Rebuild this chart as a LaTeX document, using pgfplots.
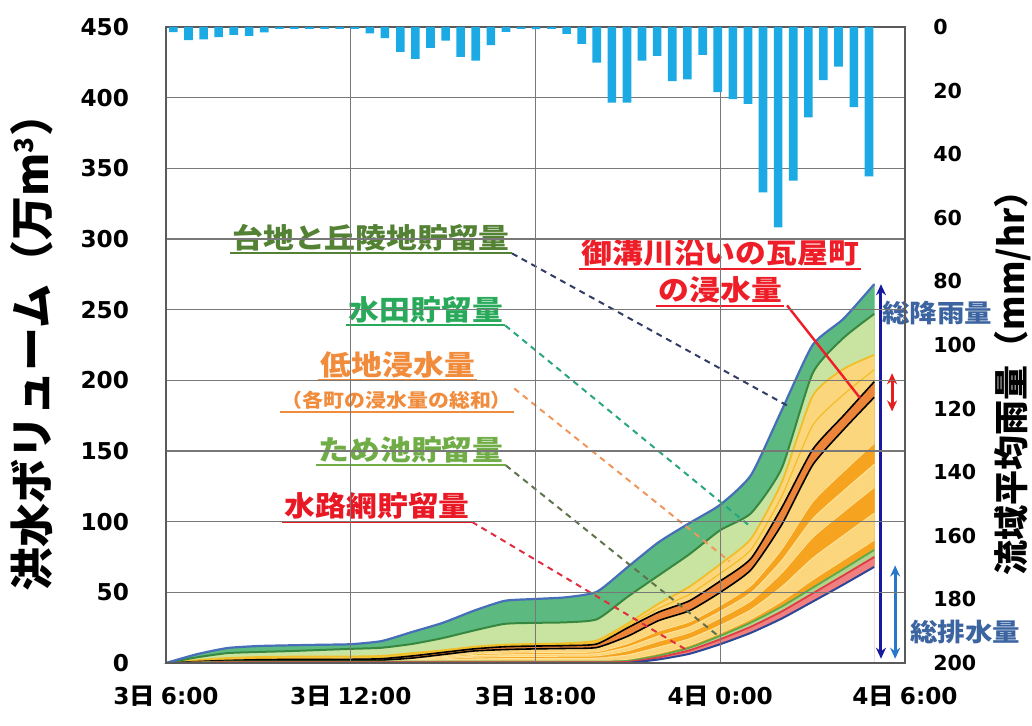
\documentclass[border=0pt]{standalone}
\usepackage{fontspec}
\setmainfont{Noto Sans CJK JP}[FakeStretch=1.1]
\newfontfamily\upfont{Noto Sans CJK JP}
\newfontfamily\numfont{DejaVu Sans}
\usepackage{pgfplots}
\usepackage{pgfplotstable}
\pgfplotsset{compat=1.18}
\usetikzlibrary{arrows.meta}

% area colours
\definecolor{hillgreen}{RGB}{92,186,128}
\definecolor{topblue}{RGB}{70,110,185}
\definecolor{paddygreen}{RGB}{200,228,160}
\definecolor{paddyline}{RGB}{55,135,65}
\definecolor{lowyellow}{RGB}{252,214,125}
\definecolor{loworange}{RGB}{246,164,32}
\definecolor{kawara}{RGB}{236,132,58}
\definecolor{goldline}{RGB}{242,190,40}
\definecolor{paleline}{RGB}{255,226,150}
\definecolor{pondfill}{RGB}{176,212,140}
\definecolor{pondline}{RGB}{96,168,72}
\definecolor{chanfill}{RGB}{240,128,128}
\definecolor{chanline}{RGB}{225,60,70}
\definecolor{drainline}{RGB}{45,70,150}
\definecolor{rainblue}{RGB}{28,170,228}
\definecolor{gridgray}{RGB}{120,120,120}
\definecolor{framegray}{RGB}{90,90,90}
% label colours
\definecolor{tTai}{RGB}{84,130,53}
\definecolor{tPaddy}{RGB}{40,170,90}
\definecolor{tLow}{RGB}{240,140,60}
\definecolor{tPond}{RGB}{112,173,71}
\definecolor{tChan}{RGB}{232,24,36}
\definecolor{tKawara}{RGB}{238,30,40}
\definecolor{tTotal}{RGB}{60,100,160}
\definecolor{lTai}{RGB}{50,60,100}
\definecolor{lPaddy}{RGB}{40,165,130}
\definecolor{lLow}{RGB}{240,150,90}
\definecolor{lPond}{RGB}{95,115,75}
\definecolor{lChan}{RGB}{225,45,65}
\definecolor{aNavy}{RGB}{25,25,160}
\definecolor{aRed}{RGB}{230,30,30}
\definecolor{aBlue}{RGB}{40,120,200}

% cumulative volume boundaries (10^4 m^3), hours after 3rd 6:00
% D: drainage, R: +channels, G: +ponds, O1..O5/Klo/Khi/O7/L: lowland towns,
% S: +paddy fields, T: +uplands and hills
\pgfplotstableread{
t  D    R    G    O1     O2     O3     O4     O5     Klo   Khi   O7     L     S     T
0  0    0    0    0      0      0      0      0      0     0     0      0     0     0
1  0    0.3  0.5  0.51   0.52   0.54   0.56   0.57   0.6   1.0   1.45   2.0   4.0   6.2
2  0    0.5  1.0  1.01   1.05   1.08   1.11   1.14   1.2   1.8   2.57   3.5   7.0   10.6
3  0    0.5  1.0  1.03   1.12   1.21   1.28   1.35   1.5   2.3   3.16   4.2   7.8   12.0
4  0    0.5  1.0  1.04   1.14   1.25   1.34   1.42   1.6   2.5   3.4    4.5   8.4   12.5
5  0    0.5  1.0  1.04   1.14   1.25   1.34   1.42   1.6   2.5   3.4    4.5   9.2   12.9
6  0    0.5  1.0  1.04   1.14   1.25   1.34   1.42   1.6   2.6   3.5    4.6   10.0  13.3
7  0    0.5  1.0  1.07   1.24   1.41   1.56   1.70   2.0   3.0   3.9    5.0   10.8  15.5
8  0    0.5  1.0  1.16   1.60   2.03   2.40   2.75   3.5   5.0   5.9    7.0   13.5  22.0
9  0    0.5  1.0  1.33   2.20   3.05   3.80   4.50   6.0   7.5   8.18   9.0   17.7  28.5
10 0    0.5  1.0  1.49   2.80   4.08   5.20   6.25   8.5   10.0  10.68  11.5  23.0  37.0
11 0    0.5  1.0  1.55   3.04   4.49   5.76   6.95   9.5   11.5  12.18  13.0  27.7  44.0
12 0    0.5  1.0  1.59   3.16   4.69   6.04   7.30   10.0  12.0  12.68  13.5  28.4  45.3
13 0    0.5  1.0  1.60   3.23   4.81   6.21   7.51   10.3  12.3  13.07  14.0  28.8  46.5
14 0    0.5  1.0  1.65   3.40   5.10   6.60   8.00   11.0  13.5  14.63  16.0  31.0  50.5
15 0    0.8  1.5  2.64   5.70   8.68   11.30  13.75  19.0  25.0  26.35  28.0  47.0  68.0
16 2.5  4.0  5.2  6.81   11.15  15.37  19.09  22.56  30.0  36.0  38.7   42.0  62.0  85.5
17 6.5  9.0  10.8 12.50  17.09  21.54  25.47  29.14  37.0  44.0  48.5   54.0  77.0  99.0
18 13.3 16.8 19.2 21.20  26.59  31.83  36.45  40.76  50.0  58.0  63.4   70.0  94.0  112.0
19 21.4 25.7 28.7 31.12  37.65  43.99  49.59  54.81  66.0  74.0  80.3   88.0  106.0 133.0
20 31.5 36.5 40.0 43.77  53.92  63.78  72.48  80.60  98.0  110.0 118.1  128.0 138.0 179.0
21 43.4 49.2 53.2 58.84  74.03  88.79  101.81 113.96 140.0 151.0 168.1  189.0 205.0 225.0
22 55.5 62.0 66.5 72.90  90.14  106.89 121.66 135.45 165.0 175.0 189.85 208.0 230.0 243.5
23 68.0 75.0 80.0 87.02  105.92 124.28 140.48 155.60 188.0 199.0 207.55 218.0 247.0 268.0
}\volume

% basin mean rainfall (mm/hr)
\pgfplotstableread{
t     r
0.24  1.6
0.73  4.1
1.22  3.9
1.71  3.2
2.20  2.5
2.70  2.8
3.19  1.7
3.68  0.6
4.17  0.6
4.66  0.6
5.15  0.6
5.64  0.6
6.13  0.6
6.62  2.0
7.11  3.5
7.61  7.8
8.10  10.0
8.59  6.6
9.08  4.3
9.57  9.4
10.06 10.6
10.55 5.7
11.04 1.5
11.53 0.6
12.02 0.7
12.52 0.6
13.01 2.2
13.50 5.3
13.99 11.2
14.48 23.8
14.97 23.8
15.46 10.6
15.95 9.1
16.44 17.0
16.93 16.5
17.43 8.8
17.92 20.5
18.41 22.7
18.90 24.2
19.39 52.0
19.88 63.0
20.37 48.3
20.86 28.4
21.35 16.7
21.84 12.5
22.34 25.2
22.83 47.0
}\rain

\tikzset{
  lbl/.style={font=\bfseries\fontsize{14}{14}\selectfont, inner sep=1pt, anchor=center},
  lead/.style={dash pattern=on 3pt off 2.5pt, line width=1pt},
  dbl/.style={line width=1.5pt, {Stealth[length=5.5pt,width=5pt]}-{Stealth[length=5.5pt,width=5pt]}},
  layer/.style={fill=#1, draw=#1, line width=0.35pt},
}

\begin{document}
\begin{tikzpicture}
\begin{axis}[
  at={(0,0)}, anchor=south west,
  scale only axis, width=369.5pt, height=318pt,
  xmin=0, xmax=24, ymin=0, ymax=450,
  xtick={0,6,12,18,24},
  xticklabels={{{\numfont 3}日\ {\numfont 6:00}},{{\numfont 3}日\ {\numfont 12:00}},{{\numfont 3}日\ {\numfont 18:00}},{{\numfont 4}日\ {\numfont 0:00}},{{\numfont 4}日\ {\numfont 6:00}}},
  ytick={0,50,...,450},
  ytick pos=left, xtick pos=bottom,
  major tick length=0pt,
  grid=major,
  major grid style={draw=gridgray, line width=0.65pt},
  axis line style={draw=framegray, line width=0.8pt},
  axis on top,
  clip=false,
  every axis plot/.append style={smooth, tension=0.35},
  /pgf/number format/assume math mode=true,
  yticklabel style={font=\numfont\bfseries\fontsize{11.6}{12}\selectfont, xshift=-15pt},
  xticklabel style={font=\bfseries\fontsize{11.6}{12}\selectfont, yshift=-8pt},
  ylabel={洪水ボリューム（万m\textsuperscript{\fontsize{13}{13}\selectfont 3}）},
  ylabel style={at={(rel axis cs:-0.181,0.505)}, anchor=center, font=\upfont\bfseries\fontsize{22}{22}\selectfont},
]
% stacked areas, painted from the top layer downwards
\addplot[layer=hillgreen] table[x=t,y=T]{\volume} \closedcycle;
\addplot[layer=paddygreen] table[x=t,y=S]{\volume} \closedcycle;
\addplot[layer=lowyellow] table[x=t,y=L]{\volume} \closedcycle;
\addplot[layer=kawara] table[x=t,y=Khi]{\volume} \closedcycle;
\addplot[layer=lowyellow] table[x=t,y=Klo]{\volume} \closedcycle;
\addplot[layer=loworange] table[x=t,y=O5]{\volume} \closedcycle;
\addplot[layer=lowyellow] table[x=t,y=O4]{\volume} \closedcycle;
\addplot[layer=loworange] table[x=t,y=O3]{\volume} \closedcycle;
\addplot[layer=lowyellow] table[x=t,y=O2]{\volume} \closedcycle;
\addplot[layer=loworange] table[x=t,y=O1]{\volume} \closedcycle;
\addplot[layer=pondfill] table[x=t,y=G]{\volume} \closedcycle;
\addplot[layer=chanfill] table[x=t,y=R]{\volume} \closedcycle;
\addplot[layer=white] table[x=t,y=D]{\volume} \closedcycle;
% boundary lines
\addplot[paleline, line width=0.5pt] table[x=t,y=O1]{\volume};
\addplot[paleline, line width=0.5pt] table[x=t,y=O2]{\volume};
\addplot[paleline, line width=0.5pt] table[x=t,y=O3]{\volume};
\addplot[paleline, line width=0.5pt] table[x=t,y=O4]{\volume};
\addplot[paleline, line width=0.5pt] table[x=t,y=O5]{\volume};
\addplot[goldline, line width=0.6pt] table[x=t,y=O7]{\volume};
\addplot[goldline, line width=0.9pt] table[x=t,y=L]{\volume};
\addplot[black, line width=0.8pt] table[x=t,y=Klo]{\volume};
\addplot[black, line width=0.8pt] table[x=t,y=Khi]{\volume};
\addplot[pondline, line width=0.9pt] table[x=t,y=G]{\volume};
\addplot[chanline, line width=0.9pt] table[x=t,y=R]{\volume};
\addplot[drainline, line width=1pt, restrict x to domain=15:23] table[x=t,y=D]{\volume};
\addplot[paddyline, line width=1pt] table[x=t,y=S]{\volume};
\addplot[topblue, line width=1.1pt] table[x=t,y=T]{\volume};

% labels with leaders
\node[lbl, text=tTai] (nTai) at (axis cs:6.66,301) {台地と丘陵地貯留量};
\draw[tTai, line width=1pt] (nTai.south west) -- (nTai.south east);
\draw[lTai, lead] (nTai.south east) -- (axis cs:20.27,181);

\node[lbl, text=tPaddy] (nPaddy) at (axis cs:8.44,250) {水田貯留量};
\draw[tPaddy, line width=1pt] (nPaddy.south west) -- (nPaddy.south east);
\draw[lPaddy, lead] (nPaddy.south east) -- (axis cs:18.9,98);

\node[lbl, text=tLow] (nLow) at (axis cs:7.53,211) {低地浸水量};
\draw[tLow, line width=1pt] (nLow.south west) -- (nLow.south east);
\node[font=\bfseries\fontsize{9.5}{10}\selectfont, inner sep=1pt, text=tLow] (nLow2) at (axis cs:7.5,186) {（各町の浸水量の総和）};
\draw[tLow, line width=0.8pt] (nLow2.south west) -- (nLow2.south east);
\draw[lLow, lead] (nLow2.north east) -- (axis cs:18.3,72);

\node[lbl, text=tPond] (nPond) at (axis cs:7.96,151) {ため池貯留量};
\draw[tPond, line width=1pt] (nPond.south west) -- (nPond.south east);
\draw[lPond, lead] (nPond.south east) -- (axis cs:18.0,18);

\node[lbl, text=tChan] (nChan) at (axis cs:6.86,111) {水路網貯留量};
\draw[tChan, line width=1pt] (nChan.south west) -- (nChan.south east);
\draw[lChan, lead] (nChan.south east) -- (axis cs:17.0,8);

\node[lbl, text=tKawara] (nKa) at (axis cs:18.0,290) {御溝川沿いの瓦屋町};
\draw[tKawara, line width=1pt] (nKa.south west) -- (nKa.south east);
\node[lbl, text=tKawara] (nKb) at (axis cs:18.0,264) {の浸水量};
\draw[tKawara, line width=1pt] (nKb.south west) -- (nKb.south east);
\draw[tKawara, line width=1.2pt] (axis cs:20.17,253) -- (axis cs:22.54,187.5);

% totals
\draw[aNavy, dbl] (axis cs:23.22,268) -- (axis cs:23.22,3);
\draw[aRed, dbl] (axis cs:23.58,205) -- (axis cs:23.58,178);
\draw[aBlue, dbl] (axis cs:23.68,69) -- (axis cs:23.68,3);
\node[font=\bfseries\fontsize{12.5}{13}\selectfont, text=tTotal, inner sep=0pt] at (axis cs:25.04,247.6) {総降雨量};
\node[font=\bfseries\fontsize{12.5}{13}\selectfont, text=tTotal, inner sep=0pt] at (axis cs:25.95,22) {総排水量};
\end{axis}

% rainfall bars hanging from the top on the reversed right axis
\begin{axis}[
  at={(0,0)}, anchor=south west,
  scale only axis, width=369.5pt, height=318pt,
  xmin=0, xmax=24, ymin=0, ymax=200, y dir=reverse,
  axis y line*=right, axis x line=none,
  ytick={0,20,...,200},
  major tick length=0pt,
  y axis line style={draw=framegray, line width=0.8pt},
  /pgf/number format/assume math mode=true,
  yticklabel style={font=\numfont\bfseries\fontsize{10.3}{11}\selectfont, xshift=10.6pt},
  ylabel={流域平均雨量（mm/hr）},
  ylabel style={at={(rel axis cs:1.146,0.454)}, anchor=center, font=\upfont\bfseries\fontsize{17.5}{18}\selectfont},
]
\addplot[ybar, bar width=0.28, fill=rainblue, draw=none] table[x=t,y=r]{\rain};
\end{axis}

\pgfresetboundingbox
\path (-83pt,-31.5pt) rectangle (433pt,331.5pt);
\end{tikzpicture}
\end{document}
